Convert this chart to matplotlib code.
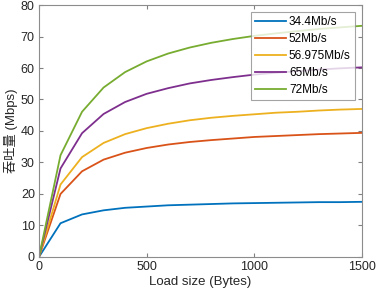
import numpy as np
import matplotlib
matplotlib.use('Agg')
import matplotlib.pyplot as plt

plt.rcParams['font.family'] = ['Liberation Sans', 'Noto Sans CJK SC', 'DejaVu Sans']

load = [0, 100, 200, 300, 400, 500, 600, 700, 800, 900, 1000, 1100, 1200, 1300, 1400, 1500]

thr_34 = [0, 10.7, 13.5, 14.8, 15.6, 16.0, 16.4, 16.6, 16.8, 17.0, 17.1, 17.2, 17.3, 17.4, 17.4, 17.5]
thr_52 = [0, 20.0, 27.2, 30.9, 33.1, 34.6, 35.7, 36.5, 37.1, 37.6, 38.1, 38.4, 38.7, 39.0, 39.2, 39.4]
thr_57 = [0, 23.0, 31.7, 36.2, 39.0, 40.9, 42.3, 43.4, 44.2, 44.8, 45.3, 45.8, 46.1, 46.5, 46.8, 47.0]
thr_65 = [0, 28.1, 39.3, 45.4, 49.2, 51.8, 53.6, 55.1, 56.2, 57.1, 57.9, 58.5, 59.0, 59.5, 59.9, 60.2]
thr_72 = [0, 32.3, 46.1, 53.8, 58.7, 62.1, 64.6, 66.5, 68.0, 69.2, 70.2, 71.0, 71.7, 72.4, 72.9, 73.4]

labels = ['34.4Mb/s', '52Mb/s', '56.975Mb/s', '65Mb/s', '72Mb/s']
colors = ['#0072BD', '#D95319', '#EDB120', '#7E2F8E', '#77AC30']

fig = plt.figure(figsize=(3.77, 2.96), dpi=100)
ax = fig.add_axes([0.1034, 0.132, 0.8566, 0.851])

for y, lab, c in zip([thr_34, thr_52, thr_57, thr_65, thr_72], labels, colors):
    ax.plot(load, y, color=c, linewidth=1.3, label=lab)

ax.set_xlim(0, 1500)
ax.set_ylim(0, 80)
ax.set_xticks([0, 500, 1000, 1500])
ax.set_yticks(np.arange(0, 81, 10))
ax.tick_params(direction='in', top=True, right=True, labelsize=9, length=3,
               color='#808080', labelcolor='#262626', pad=3)
for s in ax.spines.values():
    s.set_color('#8c8c8c')
    s.set_linewidth(0.8)

ax.set_xlabel('Load size (Bytes)', fontsize=9.5, color='#262626', labelpad=2)
ax.set_ylabel('吞吐量 (Mbps)', fontsize=9.5, color='#262626', labelpad=2)

leg = ax.legend(loc='upper right', fontsize=8.5, fancybox=False, edgecolor='#8c8c8c',
                borderaxespad=0.6, handlelength=2.6, labelspacing=0.42, borderpad=0.35,
                handletextpad=0.25)
leg.get_frame().set_linewidth(0.8)

fig.savefig('out.png', dpi=100)
